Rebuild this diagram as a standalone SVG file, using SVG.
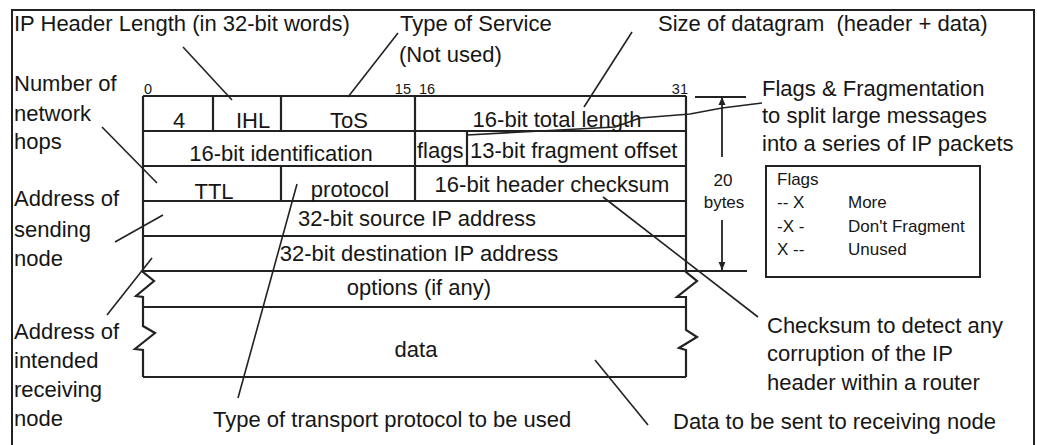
<svg xmlns="http://www.w3.org/2000/svg" width="1037" height="445" viewBox="0 0 1037 445">
<style>
text{font-family:"Liberation Sans",Arial,sans-serif;fill:#161616}
.t{font-size:22px}
.n{font-size:14.5px}
.k{font-size:17px}
.c{text-anchor:middle}
.e{text-anchor:end}
.grid,.conn,.frame,.box,.dim{fill:none;stroke:#222;stroke-linejoin:miter}
.grid{stroke-width:2.2}
.frame{stroke-width:2}
.box{stroke-width:2}
.dim{stroke-width:1.8}
.conn{stroke-width:1.6}
</style>
<defs>
<marker id="tip" viewBox="0 0 8 8" refX="8" refY="4" markerWidth="8" markerHeight="8" orient="auto-start-reverse" markerUnits="userSpaceOnUse">
<path d="M0,0.5 L8,4 L0,7.5 Z" fill="#222"/>
</marker>
</defs>

<rect width="1037" height="445" fill="#fff"/>
<path class="frame" d="M12,447 V10 H1034 V447"/>

<!-- header layout grid -->
<g id="grid" class="grid">
  <path d="M143,96 H686 M143,131 H686 M143,166 H686 M143,201 H686 M143,236 H686 M143,271 H747 M143,307 H686 M143,377 H686"/>
  <path d="M143,96 V272 L154,281 L136,296 L143,297 V326 L155,333 L135,349 L143,350 V377"/>
  <path d="M686,96 V272 L697,281 L677,297 L686,297 V330 L697,337 L679,348 L686,350 V377"/>
  <path d="M213,96 V131 M281,96 V131 M281,166 V201 M415,96 V201 M467,131 V166"/>
</g>

<!-- bit positions -->
<g id="bit-numbers">
  <text class="n" x="144" y="94">0</text>
  <text class="n e" x="411" y="94">15</text>
  <text class="n" x="419" y="94">16</text>
  <text class="n e" x="688" y="94">31</text>
</g>

<!-- header fields -->
<g id="f-version"><text class="t c" x="179" y="128">4</text></g>
<g id="f-ihl"><text class="t c" x="253" y="128">IHL</text></g>
<g id="f-tos"><text class="t c" x="349" y="128">ToS</text></g>
<g id="f-total-length"><text class="t c" x="557" y="127">16-bit total length</text></g>
<g id="f-identification"><text class="t c" x="281" y="161">16-bit identification</text></g>
<g id="f-flags"><text class="t" x="417" y="158">flags</text></g>
<g id="f-fragment-offset"><text class="t" x="470" y="158">13-bit fragment offset</text></g>
<g id="f-ttl"><text class="t c" x="214" y="199">TTL</text></g>
<g id="f-protocol"><text class="t c" x="350" y="197">protocol</text></g>
<g id="f-checksum"><text class="t c" x="552" y="192">16-bit header checksum</text></g>
<g id="f-source"><text class="t c" x="417" y="226">32-bit source IP address</text></g>
<g id="f-destination"><text class="t c" x="419" y="261">32-bit destination IP address</text></g>
<g id="f-options"><text class="t c" x="419" y="295">options (if any)</text></g>
<g id="f-data"><text class="t c" x="416" y="357">data</text></g>

<!-- header size dimension -->
<g id="dim-20-bytes">
  <path class="dim" d="M695,97 H746"/>
  <path class="dim" d="M722,157 V97" marker-end="url(#tip)"/>
  <path class="dim" d="M722,220 V270" marker-end="url(#tip)"/>
  <text class="k c" x="723" y="186">20</text>
  <text class="k c" x="724" y="208">bytes</text>
</g>

<!-- flags legend -->
<g id="flags-legend">
  <rect class="box" x="766" y="166" width="214" height="111"/>
  <text class="k" x="777" y="185">Flags</text>
  <text class="k" x="777" y="208">-- X</text>
  <text class="k" x="848" y="208">More</text>
  <text class="k" x="777" y="232">-X -</text>
  <text class="k" x="848" y="232">Don't Fragment</text>
  <text class="k" x="777" y="255">X --</text>
  <text class="k" x="848" y="255">Unused</text>
</g>

<!-- annotations -->
<g id="note-ihl"><text class="t" x="14" y="31">IP Header Length (in 32-bit words)</text></g>
<g id="note-tos">
  <text class="t" x="400" y="31">Type of Service</text>
  <text class="t" x="399" y="62">(Not used)</text>
</g>
<g id="note-size"><text class="t" x="658" y="31" xml:space="preserve">Size of datagram  (header + data)</text></g>
<g id="note-fragmentation">
  <text class="t" x="762" y="96">Flags &amp; Fragmentation</text>
  <text class="t" x="762" y="123">to split large messages</text>
  <text class="t" x="762" y="151">into a series of IP packets</text>
</g>
<g id="note-hops">
  <text class="t" x="14" y="91">Number of</text>
  <text class="t" x="14" y="121">network</text>
  <text class="t" x="14" y="149">hops</text>
</g>
<g id="note-sender">
  <text class="t" x="14" y="206">Address of</text>
  <text class="t" x="14" y="237">sending</text>
  <text class="t" x="14" y="266">node</text>
</g>
<g id="note-receiver">
  <text class="t" x="14" y="339">Address of</text>
  <text class="t" x="14" y="368">intended</text>
  <text class="t" x="14" y="397">receiving</text>
  <text class="t" x="14" y="426">node</text>
</g>
<g id="note-protocol"><text class="t" x="213" y="427">Type of transport protocol to be used</text></g>
<g id="note-checksum">
  <text class="t" x="767" y="333">Checksum to detect any</text>
  <text class="t" x="767" y="361">corruption of the IP</text>
  <text class="t" x="767" y="390">header within a router</text>
</g>
<g id="note-data"><text class="t" x="673" y="429">Data to be sent to receiving node</text></g>

<!-- leader lines -->
<g id="connectors" class="conn">
  <path d="M183,47 L232,100"/>
  <path d="M398,33 L348,97"/>
  <path d="M632,32 L584,107"/>
  <path d="M467,135 L615,127 L640,118 L690,114 L722,108 L762,103"/>
  <path d="M102,127 L157,183"/>
  <path d="M115,242 L163,215"/>
  <path d="M152,258 L107,315"/>
  <path d="M297,184 L238,398"/>
  <path d="M603,197 L758,317"/>
  <path d="M595,360 L648,425"/>
</g>
</svg>
